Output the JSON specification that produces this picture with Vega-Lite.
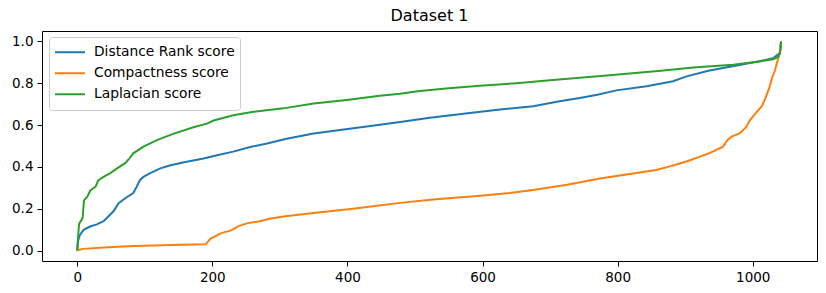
{
  "$schema": "https://vega.github.io/schema/vega-lite/v6.json",
  "width": 775,
  "height": 230,
  "autosize": {"type": "none"},
  "padding": {"left": 42, "top": 31, "right": 9, "bottom": 32},
  "background": "white",
  "title": {"text": "Dataset 1", "fontSize": 16, "fontWeight": "normal", "font": "DejaVu Sans", "color": "black", "anchor": "middle", "offset": 7},
  "config": {
    "font": "DejaVu Sans",
    "view": {"stroke": "black", "strokeWidth": 1},
    "axis": {"domain": false, "grid": false, "tickColor": "black", "tickSize": 5, "labelColor": "black", "labelFontSize": 13.5, "labelPadding": 4, "title": null},
    "legend": {"fillColor": "rgba(255,255,255,0.8)", "strokeColor": "#cccccc", "cornerRadius": 3, "padding": 5}
  },
  "data": {
    "values": [
      {"s":"Distance Rank score","x":0,"y":0},{"s":"Distance Rank score","x":1,"y":0.04},{"s":"Distance Rank score","x":2,"y":0.055},{"s":"Distance Rank score","x":4,"y":0.075},{"s":"Distance Rank score","x":7,"y":0.088},{"s":"Distance Rank score","x":10,"y":0.1},{"s":"Distance Rank score","x":19,"y":0.115},{"s":"Distance Rank score","x":29,"y":0.125},{"s":"Distance Rank score","x":39,"y":0.14},{"s":"Distance Rank score","x":46,"y":0.163},{"s":"Distance Rank score","x":54,"y":0.189},{"s":"Distance Rank score","x":61,"y":0.225},{"s":"Distance Rank score","x":71,"y":0.25},{"s":"Distance Rank score","x":83,"y":0.275},{"s":"Distance Rank score","x":88,"y":0.305},{"s":"Distance Rank score","x":93,"y":0.338},{"s":"Distance Rank score","x":98,"y":0.352},{"s":"Distance Rank score","x":108,"y":0.37},{"s":"Distance Rank score","x":123,"y":0.393},{"s":"Distance Rank score","x":138,"y":0.408},{"s":"Distance Rank score","x":162,"y":0.425},{"s":"Distance Rank score","x":187,"y":0.44},{"s":"Distance Rank score","x":207,"y":0.456},{"s":"Distance Rank score","x":231,"y":0.473},{"s":"Distance Rank score","x":256,"y":0.495},{"s":"Distance Rank score","x":281,"y":0.512},{"s":"Distance Rank score","x":310,"y":0.535},{"s":"Distance Rank score","x":350,"y":0.56},{"s":"Distance Rank score","x":389,"y":0.576},{"s":"Distance Rank score","x":420,"y":0.59},{"s":"Distance Rank score","x":448,"y":0.602},{"s":"Distance Rank score","x":478,"y":0.615},{"s":"Distance Rank score","x":522,"y":0.635},{"s":"Distance Rank score","x":575,"y":0.655},{"s":"Distance Rank score","x":626,"y":0.674},{"s":"Distance Rank score","x":675,"y":0.69},{"s":"Distance Rank score","x":714,"y":0.714},{"s":"Distance Rank score","x":744,"y":0.73},{"s":"Distance Rank score","x":770,"y":0.745},{"s":"Distance Rank score","x":798,"y":0.766},{"s":"Distance Rank score","x":843,"y":0.786},{"s":"Distance Rank score","x":882,"y":0.81},{"s":"Distance Rank score","x":902,"y":0.833},{"s":"Distance Rank score","x":936,"y":0.861},{"s":"Distance Rank score","x":970,"y":0.881},{"s":"Distance Rank score","x":1010,"y":0.905},{"s":"Distance Rank score","x":1030,"y":0.92},{"s":"Distance Rank score","x":1040,"y":0.944},{"s":"Distance Rank score","x":1042,"y":1.0},
      {"s":"Compactness score","x":0,"y":0},{"s":"Compactness score","x":3,"y":0.004},{"s":"Compactness score","x":9,"y":0.008},{"s":"Compactness score","x":40,"y":0.014},{"s":"Compactness score","x":83,"y":0.022},{"s":"Compactness score","x":140,"y":0.026},{"s":"Compactness score","x":190,"y":0.03},{"s":"Compactness score","x":193,"y":0.04},{"s":"Compactness score","x":197,"y":0.056},{"s":"Compactness score","x":204,"y":0.068},{"s":"Compactness score","x":211,"y":0.08},{"s":"Compactness score","x":218,"y":0.088},{"s":"Compactness score","x":226,"y":0.094},{"s":"Compactness score","x":233,"y":0.105},{"s":"Compactness score","x":238,"y":0.116},{"s":"Compactness score","x":251,"y":0.13},{"s":"Compactness score","x":270,"y":0.14},{"s":"Compactness score","x":285,"y":0.152},{"s":"Compactness score","x":305,"y":0.163},{"s":"Compactness score","x":350,"y":0.18},{"s":"Compactness score","x":408,"y":0.2},{"s":"Compactness score","x":438,"y":0.212},{"s":"Compactness score","x":478,"y":0.228},{"s":"Compactness score","x":527,"y":0.244},{"s":"Compactness score","x":601,"y":0.263},{"s":"Compactness score","x":640,"y":0.275},{"s":"Compactness score","x":675,"y":0.29},{"s":"Compactness score","x":725,"y":0.315},{"s":"Compactness score","x":774,"y":0.345},{"s":"Compactness score","x":823,"y":0.369},{"s":"Compactness score","x":857,"y":0.385},{"s":"Compactness score","x":880,"y":0.405},{"s":"Compactness score","x":902,"y":0.426},{"s":"Compactness score","x":936,"y":0.466},{"s":"Compactness score","x":956,"y":0.497},{"s":"Compactness score","x":963,"y":0.53},{"s":"Compactness score","x":969,"y":0.545},{"s":"Compactness score","x":981,"y":0.561},{"s":"Compactness score","x":990,"y":0.59},{"s":"Compactness score","x":996,"y":0.624},{"s":"Compactness score","x":1005,"y":0.66},{"s":"Compactness score","x":1013,"y":0.688},{"s":"Compactness score","x":1019,"y":0.73},{"s":"Compactness score","x":1025,"y":0.783},{"s":"Compactness score","x":1029,"y":0.83},{"s":"Compactness score","x":1033,"y":0.862},{"s":"Compactness score","x":1036,"y":0.9},{"s":"Compactness score","x":1039,"y":0.933},{"s":"Compactness score","x":1040,"y":0.944},{"s":"Compactness score","x":1042,"y":1.0},
      {"s":"Laplacian score","x":0,"y":0},{"s":"Laplacian score","x":1,"y":0.05},{"s":"Laplacian score","x":2,"y":0.1},{"s":"Laplacian score","x":3,"y":0.13},{"s":"Laplacian score","x":8,"y":0.155},{"s":"Laplacian score","x":9,"y":0.2},{"s":"Laplacian score","x":10,"y":0.24},{"s":"Laplacian score","x":15,"y":0.258},{"s":"Laplacian score","x":19,"y":0.285},{"s":"Laplacian score","x":23,"y":0.297},{"s":"Laplacian score","x":27,"y":0.305},{"s":"Laplacian score","x":31,"y":0.335},{"s":"Laplacian score","x":39,"y":0.352},{"s":"Laplacian score","x":49,"y":0.37},{"s":"Laplacian score","x":59,"y":0.393},{"s":"Laplacian score","x":71,"y":0.418},{"s":"Laplacian score","x":77,"y":0.44},{"s":"Laplacian score","x":83,"y":0.465},{"s":"Laplacian score","x":98,"y":0.497},{"s":"Laplacian score","x":118,"y":0.528},{"s":"Laplacian score","x":142,"y":0.558},{"s":"Laplacian score","x":172,"y":0.59},{"s":"Laplacian score","x":192,"y":0.607},{"s":"Laplacian score","x":202,"y":0.622},{"s":"Laplacian score","x":231,"y":0.647},{"s":"Laplacian score","x":261,"y":0.664},{"s":"Laplacian score","x":305,"y":0.68},{"s":"Laplacian score","x":350,"y":0.703},{"s":"Laplacian score","x":399,"y":0.72},{"s":"Laplacian score","x":448,"y":0.74},{"s":"Laplacian score","x":478,"y":0.75},{"s":"Laplacian score","x":507,"y":0.763},{"s":"Laplacian score","x":550,"y":0.776},{"s":"Laplacian score","x":596,"y":0.788},{"s":"Laplacian score","x":650,"y":0.8},{"s":"Laplacian score","x":700,"y":0.814},{"s":"Laplacian score","x":744,"y":0.826},{"s":"Laplacian score","x":780,"y":0.836},{"s":"Laplacian score","x":813,"y":0.846},{"s":"Laplacian score","x":860,"y":0.859},{"s":"Laplacian score","x":912,"y":0.875},{"s":"Laplacian score","x":971,"y":0.889},{"s":"Laplacian score","x":1010,"y":0.904},{"s":"Laplacian score","x":1030,"y":0.915},{"s":"Laplacian score","x":1037,"y":0.925},{"s":"Laplacian score","x":1040,"y":0.94},{"s":"Laplacian score","x":1041,"y":0.96},{"s":"Laplacian score","x":1042,"y":1.0}
    ]
  },
  "mark": {"type": "line", "strokeWidth": 2, "interpolate": "linear"},
  "encoding": {
    "x": {"field": "x", "type": "quantitative", "scale": {"domain": [-52.15, 1095.15], "nice": false, "zero": false}, "axis": {"values": [0, 200, 400, 600, 800, 1000], "format": "d"}},
    "y": {"field": "y", "type": "quantitative", "scale": {"domain": [-0.05, 1.05], "nice": false, "zero": false}, "axis": {"values": [0, 0.2, 0.4, 0.6, 0.8, 1.0], "format": ".1f"}},
    "color": {"field": "s", "type": "nominal", "scale": {"domain": ["Distance Rank score", "Compactness score", "Laplacian score"], "range": ["#1f77b4", "#ff7f0e", "#2ca02c"]},
      "legend": {"title": null, "orient": "none", "legendX": 7, "legendY": 6, "symbolType": "stroke", "symbolSize": 900, "symbolStrokeWidth": 2, "labelFontSize": 13.8, "labelColor": "black", "labelOffset": 8, "rowPadding": 0, "clipHeight": 20.7}},
    "order": {"field": "x", "type": "quantitative"}
  }
}
